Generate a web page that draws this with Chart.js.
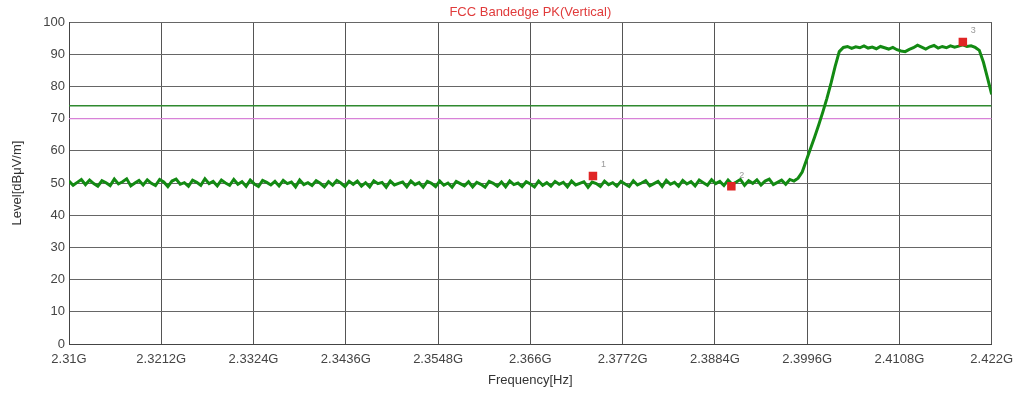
<!DOCTYPE html>
<html lang="en">
<head>
    <meta charset="UTF-8">
    <title>FCC Bandedge PK(Vertical)</title>
    <script src="https://cdn.jsdelivr.net/npm/chart.js"></script>
    <style>
        body { margin: 0; background: #fff; }
        #wrap { width: 1021px; height: 397px; }
    </style>
</head>
<body>
<div id="wrap"><canvas id="grafico" width="1021" height="397"></canvas></div>

<script>
    // sweep: 2310 MHz .. 2422 MHz, one point every 0.5 MHz
    const sweepStart = 2310;
    const sweepStep = 0.5;

    // measured level dBuV/m
    const level = [
        50.6, 49.3, 50.2, 51.1, 49.5, 50.9, 49.8, 49.0, 50.7, 50.1,
        49.2, 51.2, 49.7, 50.4, 51.3, 49.1, 50.0, 50.8, 49.4, 51.0,
        49.9, 49.2, 51.1, 50.3, 48.9, 50.6, 51.2, 49.6, 50.1, 49.0,
        50.9, 50.2, 49.3, 51.3, 49.8, 50.5, 49.1, 50.9, 50.0, 49.3,
        51.1, 49.6, 50.4, 49.0, 50.9, 49.7, 48.9, 50.8, 50.2, 49.4,
        50.5, 49.1, 50.8, 49.8, 50.3, 48.8, 50.9, 49.5, 50.1, 49.2,
        50.7, 49.9, 48.8, 50.4, 49.3, 50.8, 50.0, 48.9, 50.5, 49.6,
        50.6, 49.0, 50.1, 48.8, 50.7, 49.8, 50.2, 48.7, 50.6, 49.4,
        49.9, 50.3, 48.8, 50.6, 49.5, 50.1, 48.7, 50.5, 49.9, 48.9,
        50.6, 49.3, 50.0, 48.7, 50.5, 49.8, 49.1, 50.4, 48.8, 50.2,
        49.6, 48.7, 50.5, 49.9, 49.0, 50.3, 48.8, 50.6, 49.5, 50.0,
        48.9, 50.4, 49.7, 48.8, 50.6, 49.3, 50.1, 49.0, 50.5, 49.6,
        50.2, 48.8, 50.6, 49.4, 49.9, 50.4, 48.7, 50.3, 49.8, 48.9,
        50.6, 49.5, 50.1, 49.0, 50.5, 49.7, 48.9, 50.7, 49.4, 50.0,
        50.7, 49.1, 49.8, 50.5, 48.9, 50.8, 49.6, 50.2, 49.0, 50.8,
        49.7, 50.4, 49.1, 50.9, 50.1, 49.3, 51.0, 49.8, 50.5, 49.2,
        50.9, 49.6, 50.3, 51.1, 49.3, 50.7, 49.9, 51.0, 49.4, 50.6,
        51.2, 49.5, 50.2, 50.9, 49.6, 51.1,
        50.6, 51.5, 53.4, 57.0, 60.6, 64.2, 68.0, 72.0, 76.3, 81.0, 86.2, 90.8, 92.1,
        92.4, 91.8, 92.3, 92.0, 92.6, 91.9, 92.2, 91.7, 92.4, 92.0,
        91.6, 92.1, 91.4, 91.0, 90.8, 91.5, 92.0, 92.8, 92.2, 91.6,
        92.3, 92.7, 91.9, 92.4, 92.0, 92.6, 92.2, 92.5, 92.9, 92.4,
        92.6, 92.1, 91.2, 87.5, 82.6, 77.5
    ];

    // markers
    const markerFreq = [2373.6, 2390.4, 2418.5];
    const markerLevel = [52.2, 49.0, 93.8];
    const markerName = ['1', '2', '3'];

    // limit lines
    const limitPK = 74;
    const limitAV = 70;

    // x axis ticks
    const xTicks = [2310, 2321.2, 2332.4, 2343.6, 2354.8, 2366, 2377.2, 2388.4, 2399.6, 2410.8, 2422];
    const xTickLabels = ['2.31G', '2.3212G', '2.3324G', '2.3436G', '2.3548G', '2.366G', '2.3772G', '2.3884G', '2.3996G', '2.4108G', '2.422G'];

    const fonte = { family: 'Arial, "Liberation Sans", sans-serif', size: 13 };

    const trace = level.map((v, i) => ({ x: sweepStart + i * sweepStep, y: v }));
    const marcadores = markerFreq.map((f, i) => ({ x: f, y: markerLevel[i] }));
    const xMin = xTicks[0], xMax = xTicks[xTicks.length - 1];

    // titulo e numeros dos marcadores
    const textosPlugin = {
        id: 'textos',
        afterDraw(chart) {
            const ctx = chart.ctx;
            const area = chart.chartArea;
            ctx.save();
            ctx.font = '13px Arial, "Liberation Sans", sans-serif';
            ctx.fillStyle = '#e03b3b';
            ctx.textAlign = 'center';
            ctx.textBaseline = 'middle';
            ctx.fillText('FCC Bandedge PK(Vertical)', (area.left + area.right) / 2, 12);

            const xs = chart.scales.x, ys = chart.scales.y;
            ctx.font = '9px Arial, "Liberation Sans", sans-serif';
            ctx.fillStyle = '#999';
            ctx.textAlign = 'left';
            for (let i = 0; i < markerFreq.length; i++) {
                const px = xs.getPixelForValue(markerFreq[i]);
                const py = ys.getPixelForValue(markerLevel[i]);
                ctx.fillText(markerName[i], px + 8, py - 11);
            }
            ctx.restore();
        }
    };

    new Chart(document.getElementById('grafico'), {
        type: 'scatter',
        data: {
            datasets: [
                {
                    label: 'marcadores',
                    data: marcadores,
                    showLine: false,
                    pointStyle: 'rect',
                    pointRadius: 6,
                    backgroundColor: '#e02525',
                    borderColor: '#e02525',
                    borderWidth: 0,
                    order: 0
                },
                {
                    label: 'trace',
                    data: trace,
                    showLine: true,
                    borderColor: '#138a13',
                    borderWidth: 3,
                    pointRadius: 0,
                    tension: 0,
                    order: 1
                },
                {
                    label: 'limite PK',
                    data: [{ x: xMin, y: limitPK }, { x: xMax, y: limitPK }],
                    showLine: true,
                    borderColor: '#2f8a2f',
                    borderWidth: 1.5,
                    pointRadius: 0,
                    order: 2
                },
                {
                    label: 'limite AV',
                    data: [{ x: xMin, y: limitAV }, { x: xMax, y: limitAV }],
                    showLine: true,
                    borderColor: '#d882d8',
                    borderWidth: 1.2,
                    pointRadius: 0,
                    order: 3
                }
            ]
        },
        options: {
            responsive: false,
            animation: false,
            layout: { padding: { left: 0, right: 24, top: 22, bottom: 0 } },
            plugins: {
                legend: { display: false },
                tooltip: { enabled: false }
            },
            scales: {
                x: {
                    type: 'linear',
                    min: xMin,
                    max: xMax,
                    afterBuildTicks: (scale) => { scale.ticks = xTicks.map(v => ({ value: v })); },
                    afterFit: (scale) => { scale.height = 53; },
                    ticks: {
                        autoSkip: false,
                        maxRotation: 0,
                        padding: 8,
                        color: '#444',
                        font: fonte,
                        callback: (v, i) => xTickLabels[i]
                    },
                    grid: { color: '#555', drawTicks: false },
                    border: { color: '#444' },
                    title: {
                        display: true,
                        text: 'Frequency[Hz]',
                        color: '#333',
                        font: fonte,
                        padding: { top: 0, bottom: 9 }
                    }
                },
                y: {
                    min: 0,
                    max: 100,
                    afterFit: (scale) => { scale.width = 69; },
                    ticks: {
                        stepSize: 10,
                        padding: 4,
                        color: '#444',
                        font: fonte
                    },
                    grid: { color: '#666', drawTicks: false },
                    border: { color: '#444' },
                    title: {
                        display: true,
                        text: 'Level[dBμV/m]',
                        color: '#333',
                        font: fonte,
                        padding: { top: 10, bottom: 0 }
                    }
                }
            }
        },
        plugins: [textosPlugin]
    });
</script>
</body>
</html>
